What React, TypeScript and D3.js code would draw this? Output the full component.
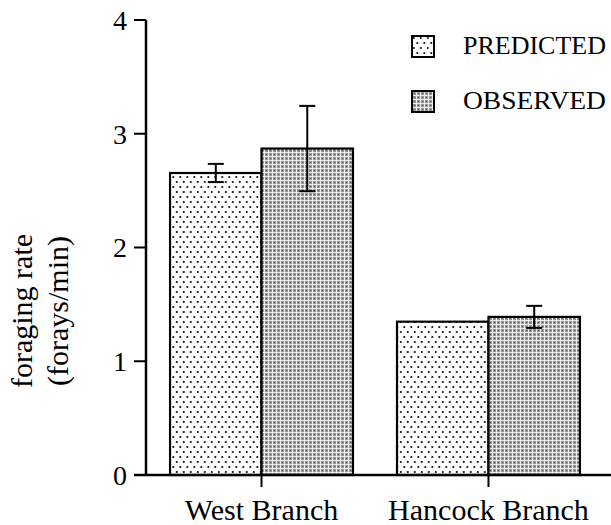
import React from "react";
import * as d3 from "d3";

const categories = ["West Branch", "Hancock Branch"];
const seriesNames = ["PREDICTED", "OBSERVED"];
const predictedValues = [2.655, 1.348];
const predictedErrors = [0.08, 0];
const observedValues = [2.87, 1.39];
const observedErrors = [0.375, 0.097];
const yTicks = [0, 1, 2, 3, 4];

const W = 611;
const H = 525;
const FONT = "'Liberation Serif', 'Times New Roman', serif";

export default function App() {
  const x = d3
    .scaleBand<string>()
    .domain(categories)
    .range([146, 604])
    .paddingInner(0.194)
    .paddingOuter(0.106);
  const sub = d3
    .scaleBand<string>()
    .domain(seriesNames)
    .range([0, x.bandwidth()])
    .padding(0);
  const y = d3.scaleLinear().domain([0, 4]).range([475, 20]);

  const series = [
    { name: "PREDICTED", values: predictedValues, errors: predictedErrors, fill: "url(#dots)" },
    { name: "OBSERVED", values: observedValues, errors: observedErrors, fill: "url(#grid)" },
  ];

  return (
    <svg
      width={W}
      height={H}
      style={{ position: "absolute", left: 0, top: 0, background: "#fff" }}
      fontFamily={FONT}
    >
      <defs>
        <pattern id="dots" width="7" height="10" patternUnits="userSpaceOnUse">
          <rect width="7" height="10" fill="#fff" />
          <circle cx="1.8" cy="2" r="1.1" fill="#111" />
          <circle cx="5.3" cy="7" r="1.1" fill="#111" />
        </pattern>
        <pattern id="grid" width="4" height="4" patternUnits="userSpaceOnUse">
          <rect width="4" height="4" fill="#969696" />
          <rect x="0" y="0" width="4" height="1" fill="#ececec" />
          <rect x="0" y="0" width="1" height="4" fill="#ececec" />
          <rect x="2" y="2" width="1" height="1" fill="#5a5a5a" />
        </pattern>
      </defs>

      {/* bars */}
      {categories.map((c, i) =>
        series.map((s) => {
          const bx = (x(c) as number) + (sub(s.name) as number);
          const bw = sub.bandwidth();
          const v = s.values[i];
          return (
            <rect
              key={c + s.name}
              x={bx}
              y={y(v)}
              width={bw}
              height={y(0) - y(v)}
              fill={s.fill}
              stroke="#000"
              strokeWidth={2.2}
            />
          );
        })
      )}

      {/* error bars */}
      {categories.map((c, i) =>
        series.map((s) => {
          const e = s.errors[i];
          if (!e) return null;
          const cx = (x(c) as number) + (sub(s.name) as number) + sub.bandwidth() / 2;
          const v = s.values[i];
          const hw = 8;
          return (
            <g key={"e" + c + s.name} stroke="#000" strokeWidth={2}>
              <line x1={cx} x2={cx} y1={y(v + e)} y2={y(v - e)} />
              <line x1={cx - hw} x2={cx + hw} y1={y(v + e)} y2={y(v + e)} />
              <line x1={cx - hw} x2={cx + hw} y1={y(v - e)} y2={y(v - e)} />
            </g>
          );
        })
      )}

      {/* y axis */}
      <line x1={146} x2={146} y1={y(4)} y2={y(0)} stroke="#000" strokeWidth={2.5} />
      {yTicks.map((t) => (
        <g key={t}>
          <line x1={134} x2={146} y1={y(t)} y2={y(t)} stroke="#000" strokeWidth={2} />
          <text
            x={127}
            y={y(t)}
            dy="0.35em"
            textAnchor="end"
            fontSize={28}
            fill="#000"
          >
            {t}
          </text>
        </g>
      ))}

      {/* x axis */}
      <line x1={134} x2={611} y1={y(0)} y2={y(0)} stroke="#000" strokeWidth={2.5} />
      {categories.map((c) => {
        const cx = (x(c) as number) + x.bandwidth() / 2;
        return (
          <g key={"xt" + c}>
            <line x1={cx} x2={cx} y1={y(0)} y2={y(0) + 12} stroke="#000" strokeWidth={2} />
            <text x={cx} y={520} textAnchor="middle" fontSize={30} fill="#000">
              {c}
            </text>
          </g>
        );
      })}

      {/* y label */}
      <g transform="translate(0,311) rotate(-90)">
        <text x={0} y={32} textAnchor="middle" fontSize={30} fill="#000">
          foraging rate
        </text>
        <text x={0} y={68} textAnchor="middle" fontSize={30} fill="#000">
          (forays/min)
        </text>
      </g>

      {/* legend */}
      {series.map((s, i) => (
        <g key={"lg" + s.name} transform={`translate(412,${36 + i * 55})`}>
          <rect x={0} y={0} width={22} height={21} fill={s.fill} stroke="#000" strokeWidth={2} />
          <text x={51} y={18} fontSize={25} fill="#000" textLength={143} lengthAdjust="spacingAndGlyphs">
            {s.name}
          </text>
        </g>
      ))}
    </svg>
  );
}
